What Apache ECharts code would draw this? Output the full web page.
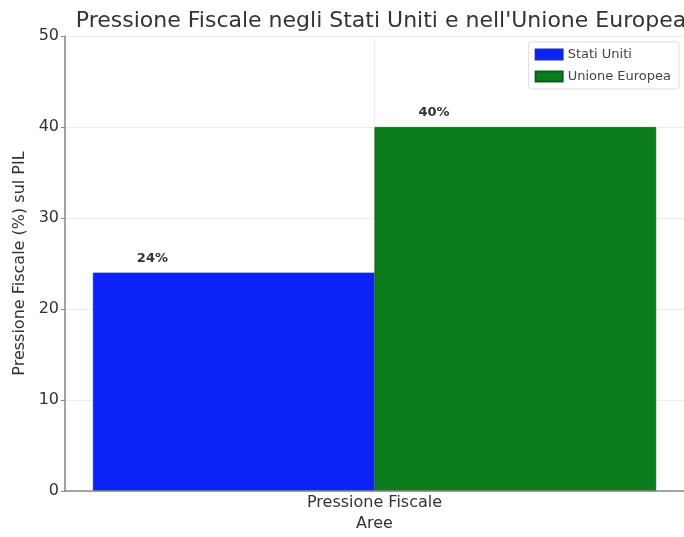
<!DOCTYPE html>
<html><head><meta charset="utf-8">
<script src="https://cdn.jsdelivr.net/npm/echarts@6/dist/echarts.min.js"></script>
<style>html,body{margin:0;padding:0;background:#fff}#c{width:684px;height:537px}</style>
</head><body><div id="c"></div>
<script>
const categories = ['Pressione Fiscale'];
const seriesNames = ['Stati Uniti', 'Unione Europea'];
const usValues = [24];
const euValues = [40];
const yTicks = [0, 10, 20, 30, 40, 50];

const chart = echarts.init(document.getElementById('c'));
const font = 'DejaVu Sans';
const lbl = {
  show: true, position: [44, -21], formatter: p => p.value + '%',
  fontFamily: font, fontSize: 13, fontWeight: 'bold', color: '#333'
};
chart.setOption({
  animation: false,
  textStyle: { fontFamily: font },
  title: {
    text: "Pressione Fiscale negli Stati Uniti e nell'Unione Europea",
    left: 376, textAlign: 'center', top: 5,
    textStyle: { fontFamily: font, fontSize: 22, fontWeight: 'normal', color: '#333' }
  },
  legend: {
    data: seriesNames, orient: 'vertical', right: 5, top: 42,
    itemWidth: 27, itemHeight: 10, itemGap: 9, icon: 'rect',
    padding: [6, 8, 6, 6],
    borderColor: '#ddd', borderWidth: 1, borderRadius: 3,
    textStyle: { fontFamily: font, fontSize: 13, color: '#444' }
  },
  grid: { left: 65, right: 0, top: 36, bottom: 39 },
  xAxis: [{
    type: 'category', data: categories,
    name: 'Aree', nameLocation: 'middle', nameGap: 24,
    nameTextStyle: { fontFamily: font, fontSize: 16, color: '#333' },
    axisLine: { onZero: false, lineStyle: { color: '#888', width: 1.5 } },
    axisTick: { show: false },
    axisLabel: { fontFamily: font, fontSize: 16, color: '#333', margin: 4 },
    z: 3
  }, {
    type: 'value', min: -1, max: 1, interval: 1, position: 'bottom',
    axisLine: { show: false, onZero: false }, axisTick: { show: false }, axisLabel: { show: false },
    splitLine: { show: true, lineStyle: { color: '#eeeeee', width: 1 } }
  }],
  yAxis: {
    type: 'value', min: yTicks[0], max: yTicks[yTicks.length - 1], interval: 10,
    position: 'left',
    name: 'Pressione Fiscale (%) sul PIL', nameLocation: 'middle', nameGap: 35,
    nameTextStyle: { fontFamily: font, fontSize: 16, color: '#333' },
    axisLine: { show: true, onZero: false, lineStyle: { color: '#888', width: 1.5 } },
    axisTick: { show: true, length: 4, lineStyle: { color: '#888' } },
    axisLabel: { fontFamily: font, fontSize: 16, color: '#333', margin: 6 },
    splitLine: { lineStyle: { color: '#eeeeee', width: 1 } }
  },
  series: [
    {
      name: seriesNames[0], type: 'bar', data: usValues, xAxisIndex: 0,
      itemStyle: { color: '#0a22f5', borderColor: '#1a2bd0', borderWidth: 0.8 },
      barGap: '0%', barCategoryGap: '9%',
      label: lbl
    },
    {
      name: seriesNames[1], type: 'bar', data: euValues, xAxisIndex: 0,
      itemStyle: { color: '#0c7d1c', borderColor: '#0a5e16', borderWidth: 0.8 },
      barGap: '0%', barCategoryGap: '9%',
      label: lbl
    }
  ]
});
</script></body></html>
